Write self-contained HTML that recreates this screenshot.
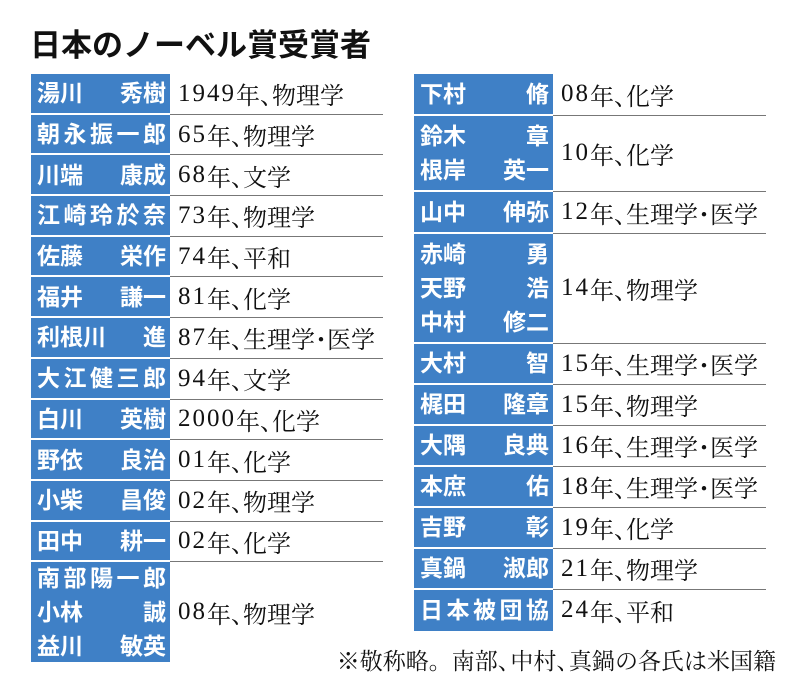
<!DOCTYPE html>
<html><head><meta charset="utf-8"><style>
body{margin:0;width:800px;height:692px;background:#fff;position:relative;overflow:hidden}
.t{position:absolute;left:30px;top:20px;font:bold 31px "Liberation Sans","Noto Sans CJK JP",sans-serif;color:#111;letter-spacing:0px}
.tb{position:absolute;top:74px}
.r{display:flex;position:relative}
.n{background:#3f80c6;color:#fff;font:bold 23px "Liberation Sans","Noto Sans CJK JP",sans-serif;box-sizing:border-box;padding:0 4px 0 6px;display:flex;flex-direction:column;justify-content:center;border-bottom:2px solid #fff}
.n div{display:flex;justify-content:space-between;line-height:34px}
.v{flex:1;border-bottom:1.5px solid #777;display:flex;align-items:center;padding-left:8px;font:24px "Liberation Serif","Noto Serif CJK JP",serif;color:#111}
.v b{font-weight:normal;font-size:25px;letter-spacing:2px}
.v i{font-style:normal;margin-right:-0.5em}
.last .v{border-bottom:none}
.last .n{border-bottom:none}
.note{position:absolute;right:24px;top:643px;font:23px "Liberation Serif","Noto Serif CJK JP",serif;color:#111}
.note i{font-style:normal;margin-right:-0.45em}
</style></head><body>
<div class="t">日本のノーベル賞受賞者</div>
<div class="tb" style="left:31px;width:352px">
<div class="r" style="height:40.7px"><div class="n" style="width:139px"><div><span>湯川</span><span>秀樹</span></div></div><div class="v"><b>1949</b>年<i>、</i>物理学</div></div>
<div class="r" style="height:40.7px"><div class="n" style="width:139px"><div><span>朝</span><span>永</span><span>振</span><span>一</span><span>郎</span></div></div><div class="v"><b>65</b>年<i>、</i>物理学</div></div>
<div class="r" style="height:40.7px"><div class="n" style="width:139px"><div><span>川端</span><span>康成</span></div></div><div class="v"><b>68</b>年<i>、</i>文学</div></div>
<div class="r" style="height:40.7px"><div class="n" style="width:139px"><div><span>江</span><span>崎</span><span>玲</span><span>於</span><span>奈</span></div></div><div class="v"><b>73</b>年<i>、</i>物理学</div></div>
<div class="r" style="height:40.7px"><div class="n" style="width:139px"><div><span>佐藤</span><span>栄作</span></div></div><div class="v"><b>74</b>年<i>、</i>平和</div></div>
<div class="r" style="height:40.7px"><div class="n" style="width:139px"><div><span>福井</span><span>謙一</span></div></div><div class="v"><b>81</b>年<i>、</i>化学</div></div>
<div class="r" style="height:40.7px"><div class="n" style="width:139px"><div><span>利根川</span><span>進</span></div></div><div class="v"><b>87</b>年<i>、</i>生理学･医学</div></div>
<div class="r" style="height:40.7px"><div class="n" style="width:139px"><div><span>大</span><span>江</span><span>健</span><span>三</span><span>郎</span></div></div><div class="v"><b>94</b>年<i>、</i>文学</div></div>
<div class="r" style="height:40.7px"><div class="n" style="width:139px"><div><span>白川</span><span>英樹</span></div></div><div class="v"><b>2000</b>年<i>、</i>化学</div></div>
<div class="r" style="height:40.7px"><div class="n" style="width:139px"><div><span>野依</span><span>良治</span></div></div><div class="v"><b>01</b>年<i>、</i>化学</div></div>
<div class="r" style="height:40.7px"><div class="n" style="width:139px"><div><span>小柴</span><span>昌俊</span></div></div><div class="v"><b>02</b>年<i>、</i>物理学</div></div>
<div class="r" style="height:40.7px"><div class="n" style="width:139px"><div><span>田中</span><span>耕一</span></div></div><div class="v"><b>02</b>年<i>、</i>化学</div></div>
<div class="r last" style="height:100px"><div class="n" style="width:139px"><div><span>南</span><span>部</span><span>陽</span><span>一</span><span>郎</span></div><div><span>小林</span><span>誠</span></div><div><span>益川</span><span>敏英</span></div></div><div class="v"><b>08</b>年<i>、</i>物理学</div></div>
</div>
<div class="tb" style="left:414px;width:352px">
<div class="r" style="height:41.5px"><div class="n" style="width:139px"><div><span>下村</span><span>脩</span></div></div><div class="v"><b>08</b>年<i>、</i>化学</div></div>
<div class="r" style="height:76px"><div class="n" style="width:139px"><div><span>鈴木</span><span>章</span></div><div><span>根岸</span><span>英一</span></div></div><div class="v"><b>10</b>年<i>、</i>化学</div></div>
<div class="r" style="height:42px"><div class="n" style="width:139px"><div><span>山中</span><span>伸弥</span></div></div><div class="v"><b>12</b>年<i>、</i>生理学･医学</div></div>
<div class="r" style="height:110px"><div class="n" style="width:139px"><div><span>赤崎</span><span>勇</span></div><div><span>天野</span><span>浩</span></div><div><span>中村</span><span>修二</span></div></div><div class="v"><b>14</b>年<i>、</i>物理学</div></div>
<div class="r" style="height:41px"><div class="n" style="width:139px"><div><span>大村</span><span>智</span></div></div><div class="v"><b>15</b>年<i>、</i>生理学･医学</div></div>
<div class="r" style="height:41px"><div class="n" style="width:139px"><div><span>梶田</span><span>隆章</span></div></div><div class="v"><b>15</b>年<i>、</i>物理学</div></div>
<div class="r" style="height:41px"><div class="n" style="width:139px"><div><span>大隅</span><span>良典</span></div></div><div class="v"><b>16</b>年<i>、</i>生理学･医学</div></div>
<div class="r" style="height:41px"><div class="n" style="width:139px"><div><span>本庶</span><span>佑</span></div></div><div class="v"><b>18</b>年<i>、</i>生理学･医学</div></div>
<div class="r" style="height:41px"><div class="n" style="width:139px"><div><span>吉野</span><span>彰</span></div></div><div class="v"><b>19</b>年<i>、</i>化学</div></div>
<div class="r" style="height:41px"><div class="n" style="width:139px"><div><span>真鍋</span><span>淑郎</span></div></div><div class="v"><b>21</b>年<i>、</i>物理学</div></div>
<div class="r last" style="height:41px"><div class="n" style="width:139px"><div><span>日</span><span>本</span><span>被</span><span>団</span><span>協</span></div></div><div class="v"><b>24</b>年<i>、</i>平和</div></div>
</div>
<div class="note">※敬称略。南部<i>、</i>中村<i>、</i>真鍋の各氏は米国籍</div>
</body></html>
